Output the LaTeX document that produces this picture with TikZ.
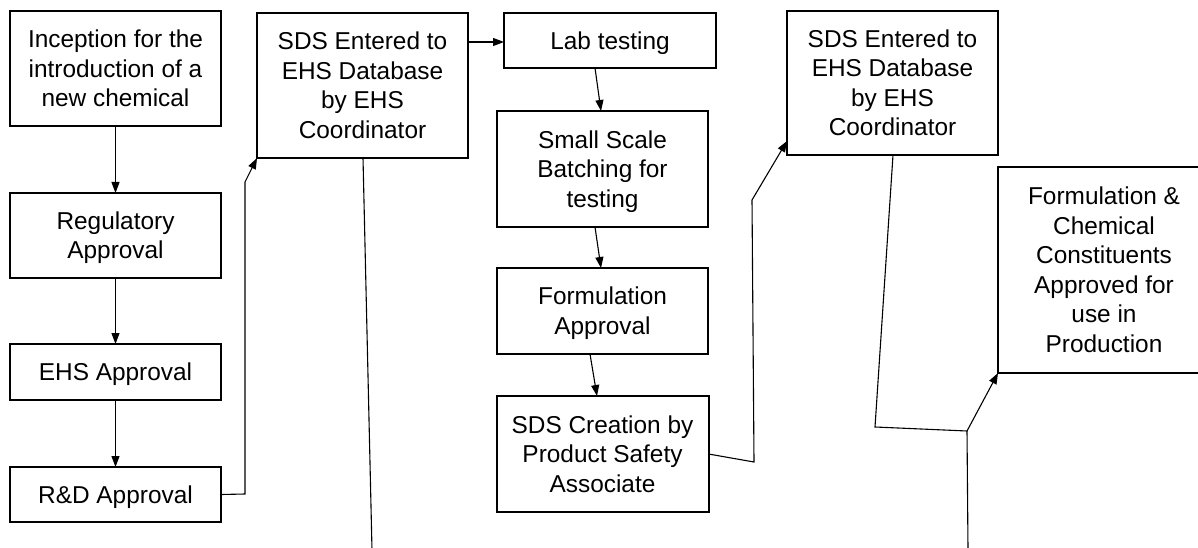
\documentclass[tikz,border=0pt]{standalone}
\usepackage{fontspec}
\setmainfont{Liberation Sans}
\usetikzlibrary{arrows.meta,calc}
\newcommand{\ls}{\rule[-6.05pt]{0pt}{29.5pt}}
\begin{document}
\begin{tikzpicture}[x=1pt,y=-1pt,
  box/.style={draw=black,line width=2pt,rectangle,inner sep=0pt,outer sep=0pt,
    align=center,font=\fontsize{24.4}{29.5}\selectfont,text=black},
  conn/.style={draw=black,line width=1.1pt},
  arr/.style={conn,-{Triangle[length=11pt,width=8pt]}}]
\useasboundingbox (0,0) rectangle (1198,548);
\clip (0,0) rectangle (1198,548);
\fill[white] (0,0) rectangle (1198,548);
% left column
\node[box,minimum width=211pt,minimum height=115pt] (A) at (115.5,68.5) {\ls Inception for the\\\ls introduction of a\\\ls new chemical};
\node[box,minimum width=211pt,minimum height=85pt] (B) at (115.5,235.5) {\ls Regulatory\\\ls Approval};
\node[box,minimum width=211pt,minimum height=56pt] (C) at (115.5,372) {\ls EHS Approval};
\node[box,minimum width=211pt,minimum height=55pt] (D) at (115.5,494.5) {\ls R\&D Approval};
% second column
\node[box,minimum width=211pt,minimum height=145pt] (E) at (362.5,85.5) {\ls SDS Entered to\\\ls EHS Database\\\ls by EHS\\\ls Coordinator};
% third column
\node[box,minimum width=212pt,minimum height=55pt] (F) at (610,40.5) {\ls Lab testing};
\node[box,minimum width=211pt,minimum height=116pt] (G) at (602.5,169) {\ls Small Scale\\\ls Batching for\\\ls testing};
\node[box,minimum width=211pt,minimum height=86pt] (H) at (602.5,311) {\ls Formulation\\\ls Approval};
\node[box,minimum width=212pt,minimum height=116pt] (I) at (602.5,454) {\ls SDS Creation by\\\ls Product Safety\\\ls Associate};
% fourth column
\node[box,minimum width=211pt,minimum height=144pt] (J) at (892.5,83) {\ls SDS Entered to\\\ls EHS Database\\\ls by EHS\\\ls Coordinator};
\node[box,minimum width=212pt,minimum height=206pt] (K) at (1104,270) {\ls Formulation \&\\\ls Chemical\\\ls Constituents\\\ls Approved for\\\ls use in\\\ls Production};
% bend and free-end coordinates
\coordinate (d1) at (245,494);
\coordinate (d2) at (245,182);
\coordinate (e1) at (372,550);
\coordinate (i1) at (754,462);
\coordinate (i2) at (752,200);
\coordinate (j1) at (875,427);
\coordinate (j2) at (967,431);
\coordinate (j3) at (968,550);
% connectors
\draw[arr] (A) -- (B);
\draw[arr] (B) -- (C);
\draw[arr] (C) -- (D);
\draw[arr] (D.east) -- (d1) -- (d2) -- (E.south west);
\draw[arr] ($(E.north east)+(0,29)$) -- ($(F.north west)+(0,29)$);
\draw[conn] ($(E.south)+(0.5,0)$) -- (e1);
\draw[arr] ($(F.south)+(-15,0)$) -- ($(G.north)+(-1.5,0)$);
\draw[arr] ($(G.south)+(-7.5,0)$) -- ($(H.north)+(-1.5,0)$);
\draw[arr] ($(H.south)+(-12.5,0)$) -- ($(I.north)+(-5.5,0)$);
\draw[arr] (I.east) -- (i1) -- (i2) -- ($(J.south west)+(0,-14)$);
\draw[arr] ($(J.south)+(0.5,0)$) -- (j1) -- (j2) -- (K.south west);
\draw[conn] (j2) -- (j3);
\end{tikzpicture}
\end{document}
